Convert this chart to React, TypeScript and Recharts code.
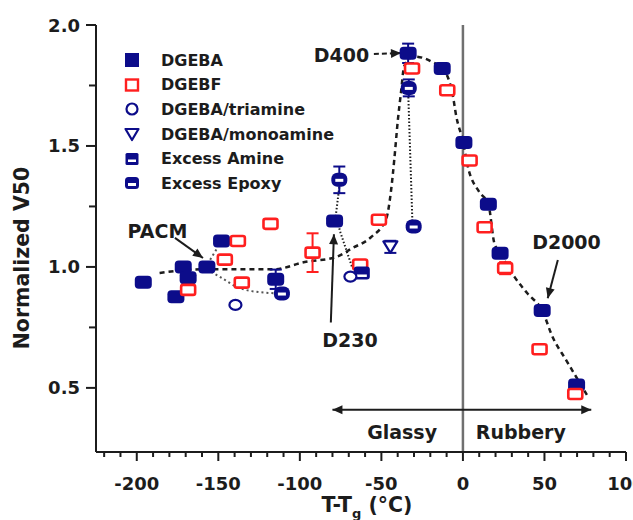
import React from "react";
import {
  ComposedChart,
  Scatter,
  Line,
  XAxis,
  YAxis,
  ErrorBar,
  ReferenceLine,
  ReferenceDot,
  Legend,
} from "recharts";

const NAVY = "#0c0c8a";
const RED = "#ff1f1f";
const INK = "#1c1c1c";
const FONT = "'DejaVu Sans', Verdana, sans-serif";

// axis ticks (minor every 10 / 0.25, labels on the majors)
const xTicks = [
  -220, -210, -200, -190, -180, -170, -160, -150, -140, -130, -120, -110, -100, -90, -80, -70, -60,
  -50, -40, -30, -20, -10, 0, 10, 20, 30, 40, 50, 60, 70, 80, 90, 100,
];
const xLabels = [-200, -150, -100, -50, 0, 50, 100];
const yTicks = [0.5, 0.75, 1, 1.25, 1.5, 1.75, 2];
const yLabels = [0.5, 1, 1.5, 2];

// measured points, T-Tg vs normalized V50
const dgeba = [
  { x: -196, y: 0.937 },
  { x: -176, y: 0.877 },
  { x: -171.5, y: 1.0 },
  { x: -168.5, y: 0.955 },
  { x: -157, y: 1.0 },
  { x: -148, y: 1.107 },
  { x: -78.7, y: 1.19 },
  { x: -12.7, y: 1.82 },
  { x: 0.6, y: 1.514 },
  { x: 15.6, y: 1.259 },
  { x: 22.8, y: 1.057 },
  { x: 48.6, y: 0.82 },
  { x: 69.7, y: 0.512 },
];
const dgebaErr = [
  { x: -114.8, y: 0.949, err: 0.04 },
  { x: -33.6, y: 1.883, err: 0.04 },
];
const dgebf = [
  { x: -168.5, y: 0.905 },
  { x: -146, y: 1.03 },
  { x: -138, y: 1.107 },
  { x: -135.6, y: 0.935 },
  { x: -118, y: 1.178 },
  { x: -63, y: 1.01 },
  { x: -51.5, y: 1.195 },
  { x: -31.2, y: 1.82 },
  { x: -9.6, y: 1.73 },
  { x: 4.1, y: 1.44 },
  { x: 13.3, y: 1.164 },
  { x: 47, y: 0.66 },
  { x: 68.9, y: 0.475 },
];
const dgebfErr = [
  { x: -92.2, y: 1.059, err: 0.08 },
  { x: 25.9, y: 0.995, err: 0.025 },
];
const triamine = [
  { x: -139.5, y: 0.843 },
  { x: -69, y: 0.96 },
];
const monoamine = [{ x: -44.5, y: 1.083, err: 0.025 }];
const excessAmine = [{ x: -62, y: 0.975 }];
const excessEpoxy = [
  { x: -111, y: 0.89 },
  { x: -30.2, y: 1.167 },
];
const excessEpoxyErr = [
  { x: -75.8, y: 1.36, err: 0.055 },
  { x: -33.2, y: 1.74, err: 0.035 },
];

// guide curves
const mainCurve = [
  { x: -186, y: 0.975 },
  { x: -160, y: 0.99 },
  { x: -135, y: 0.99 },
  { x: -116, y: 0.99 },
  { x: -97, y: 1.02 },
  { x: -78, y: 1.04 },
  { x: -68, y: 1.077 },
  { x: -56, y: 1.125 },
  { x: -47, y: 1.2 },
  { x: -44, y: 1.32 },
  { x: -42, y: 1.45 },
  { x: -40, y: 1.6 },
  { x: -38, y: 1.72 },
  { x: -36, y: 1.83 },
  { x: -30, y: 1.87 },
  { x: -19, y: 1.848 },
  { x: -12, y: 1.815 },
  { x: -9, y: 1.78 },
  { x: -6.5, y: 1.72 },
  { x: -4, y: 1.62 },
  { x: 0, y: 1.52 },
  { x: 3, y: 1.415 },
  { x: 10, y: 1.31 },
  { x: 15.6, y: 1.26 },
  { x: 19.2, y: 1.1 },
  { x: 22.8, y: 1.057 },
  { x: 31.5, y: 0.96 },
  { x: 39.6, y: 0.89 },
  { x: 48.6, y: 0.82 },
  { x: 55, y: 0.71 },
  { x: 63.3, y: 0.615 },
  { x: 77, y: 0.46 },
];
const pacmLow = [
  { x: -157, y: 0.99 },
  { x: -148, y: 0.955 },
  { x: -139.5, y: 0.92 },
  { x: -129.5, y: 0.9 },
  { x: -111, y: 0.89 },
];
const pacmUp = [
  { x: -155, y: 1.03 },
  { x: -150.5, y: 1.08 },
];
const d400Drop = [
  { x: -31, y: 1.19 },
  { x: -33.5, y: 1.71 },
];
const d230Drop = [
  { x: -75.8, y: 1.33 },
  { x: -78, y: 1.21 },
  { x: -75, y: 1.14 },
  { x: -68, y: 1.0 },
];

const legendItems = [
  { name: "DGEBA", kind: "dgeba" },
  { name: "DGEBF", kind: "dgebf" },
  { name: "DGEBA/triamine", kind: "triamine" },
  { name: "DGEBA/monoamine", kind: "monoamine" },
  { name: "Excess Amine", kind: "amine" },
  { name: "Excess Epoxy", kind: "epoxy" },
];

const Mark = ({ kind, cx, cy }: { kind: string; cx: number; cy: number }) => {
  switch (kind) {
    case "dgeba":
      return <rect x={cx - 8.5} y={cy - 6.5} width={17} height={13} rx={4} fill={NAVY} />;
    case "dgebf":
      return (
        <rect x={cx - 7} y={cy - 5} width={14} height={10} rx={2} fill="#fff" stroke={RED} strokeWidth={2.6} />
      );
    case "amine":
      return (
        <g>
          <rect x={cx - 8} y={cy - 6.5} width={16} height={13} rx={3} fill={NAVY} />
          <rect x={cx - 5} y={cy + 1.5} width={10} height={2.5} fill="#fff" />
        </g>
      );
    case "epoxy":
      return (
        <g>
          <rect x={cx - 8} y={cy - 7} width={16} height={14} rx={6} fill={NAVY} />
          <rect x={cx - 4} y={cy - 1} width={8} height={3} fill="#fff" />
        </g>
      );
    case "triamine":
      return <ellipse cx={cx} cy={cy} rx={6} ry={5} fill="#fff" stroke={NAVY} strokeWidth={2.2} />;
    case "monoamine":
      return (
        <polygon
          points={`${cx - 7},${cy - 5.5} ${cx + 7},${cy - 5.5} ${cx},${cy + 6}`}
          fill="#fff"
          stroke={NAVY}
          strokeWidth={2.2}
          strokeLinejoin="round"
        />
      );
    default:
      return null;
  }
};

const LegendMark = ({ kind }: { kind: string }) => {
  const c = 9;
  switch (kind) {
    case "dgeba":
      return <rect x={c - 7} y={c - 7} width={14} height={14} fill={NAVY} />;
    case "dgebf":
      return <rect x={c - 6} y={c - 5.5} width={12} height={11} fill="#fff" stroke={RED} strokeWidth={2.4} />;
    case "triamine":
      return <circle cx={c} cy={c} r={5.5} fill="#fff" stroke={NAVY} strokeWidth={2.2} />;
    case "monoamine":
      return (
        <polygon
          points={`${c - 6.5},${c - 5} ${c + 6.5},${c - 5} ${c},${c + 6}`}
          fill="#fff"
          stroke={NAVY}
          strokeWidth={2.2}
          strokeLinejoin="round"
        />
      );
    case "amine":
      return (
        <g>
          <rect x={c - 6.5} y={c - 6} width={13} height={12} rx={1.5} fill={NAVY} />
          <rect x={c - 4} y={c + 0.5} width={8} height={2.5} fill="#fff" />
        </g>
      );
    case "epoxy":
      return (
        <g>
          <rect x={c - 7} y={c - 6} width={14} height={12} rx={3.5} fill={NAVY} />
          <rect x={c - 4} y={c} width={8} height={3} fill="#fff" />
        </g>
      );
    default:
      return null;
  }
};

const LegendBox = () => (
  <div style={{ fontFamily: FONT, fontWeight: 700, fontSize: 16, color: INK }}>
    {legendItems.map((item) => (
      <div key={item.name} style={{ display: "flex", alignItems: "center", height: 24.6 }}>
        <svg width={18} height={18} style={{ marginRight: 20 }}>
          <LegendMark kind={item.kind} />
        </svg>
        <span>{item.name}</span>
      </div>
    ))}
  </div>
);

const txt = { fontFamily: FONT, fontWeight: 700, fill: INK } as const;

const BottomTick = (props: any) => {
  const { x, y, payload } = props;
  const major = xLabels.includes(payload.value);
  return (
    <g>
      <line x1={x} y1={y} x2={x} y2={y + (major ? 9 : 5)} stroke={INK} strokeWidth={2} />
      {major && (
        <text x={x} y={y + 38} textAnchor="middle" fontSize={18} {...txt}>
          {payload.value}
        </text>
      )}
    </g>
  );
};

const TopTick = (props: any) => {
  const { x, y, payload } = props;
  const major = xLabels.includes(payload.value);
  return <line x1={x} y1={y} x2={x} y2={y + (major ? 8 : 4)} stroke={INK} strokeWidth={2} />;
};

const LeftTick = (props: any) => {
  const { x, y, payload } = props;
  const major = yLabels.includes(payload.value);
  return (
    <g>
      <line x1={x} y1={y} x2={x - (major ? 10 : 7)} y2={y} stroke={INK} strokeWidth={2} />
      {major && (
        <text x={x - 16} y={y + 6.5} textAnchor="end" fontSize={18} {...txt}>
          {payload.value.toFixed(1)}
        </text>
      )}
    </g>
  );
};

const RightTick = (props: any) => {
  const { x, y, payload } = props;
  const major = yLabels.includes(payload.value);
  return <line x1={x} y1={y} x2={x - (major ? 8 : 5)} y2={y} stroke={INK} strokeWidth={2} />;
};

const Arrow = (props: any) => {
  const { x1, y1, x2, y2, both, dash } = props;
  const head = (tx: number, ty: number, fx: number, fy: number) => {
    const a = Math.atan2(ty - fy, tx - fx);
    const L = 10;
    const W = 4.5;
    const bx = tx - L * Math.cos(a);
    const by = ty - L * Math.sin(a);
    const px = -Math.sin(a) * W;
    const py = Math.cos(a) * W;
    return <polygon points={`${tx},${ty} ${bx + px},${by + py} ${bx - px},${by - py}`} fill={INK} />;
  };
  return (
    <g>
      <line x1={x1} y1={y1} x2={x2} y2={y2} stroke={INK} strokeWidth={2} strokeDasharray={dash} />
      {head(x2, y2, x1, y1)}
      {both && head(x1, y1, x2, y2)}
    </g>
  );
};

const tag = (text: string, size = 19) => (p: any) =>
  (
    <text x={p.cx} y={p.cy} dy="0.36em" textAnchor="middle" fontSize={size} {...txt}>
      {text}
    </text>
  );

const shapeOf = (kind: string) => (p: any) => <Mark kind={kind} cx={p.cx} cy={p.cy} />;

export default function App() {
  return (
    <div style={{ position: "absolute", left: 0, top: 0, background: "#fff" }}>
      <ComposedChart width={633} height={520} margin={{ top: 25, right: 7, bottom: 0, left: 0 }}>
        <XAxis
          dataKey="x"
          type="number"
          domain={[-225, 100]}
          ticks={xTicks}
          interval={0}
          allowDataOverflow
          height={68}
          tickSize={0}
          tickMargin={0}
          tickLine={false}
          axisLine={{ stroke: INK, strokeWidth: 2 }}
          tick={BottomTick}
          label={() => (
            <text x={367} y={512} textAnchor="middle" fontSize={20.5} {...txt}>
              T-T
              <tspan fontSize={13} dy={6}>
                g
              </tspan>
              <tspan dy={-6}> (°C)</tspan>
            </text>
          )}
        />
        <XAxis
          xAxisId="top"
          dataKey="x"
          type="number"
          orientation="top"
          domain={[-225, 100]}
          ticks={xTicks}
          interval={0}
          allowDataOverflow
          height={0}
          tickSize={0}
          tickMargin={0}
          tickLine={false}
          axisLine={{ stroke: INK, strokeWidth: 2 }}
          tick={TopTick}
        />
        <YAxis
          dataKey="y"
          type="number"
          domain={[0.235, 2]}
          ticks={yTicks}
          interval={0}
          allowDataOverflow
          width={96}
          tickSize={0}
          tickMargin={0}
          tickLine={false}
          axisLine={{ stroke: INK, strokeWidth: 2 }}
          tick={LeftTick}
          label={() => (
            <text
              x={22}
              y={258}
              textAnchor="middle"
              fontSize={20.5}
              transform="rotate(-90 22 258)"
              dy="0.36em"
              {...txt}
            >
              Normalized V50
            </text>
          )}
        />
        <YAxis
          yAxisId="right"
          dataKey="y"
          type="number"
          orientation="right"
          domain={[0.235, 2]}
          ticks={yTicks}
          interval={0}
          allowDataOverflow
          width={0}
          tickSize={0}
          tickMargin={0}
          tickLine={false}
          axisLine={{ stroke: INK, strokeWidth: 2 }}
          tick={RightTick}
        />

        <ReferenceLine x={0} stroke="#707070" strokeWidth={2.5} />

        <Line data={mainCurve} dataKey="y" type="monotone" stroke={INK} strokeWidth={2.5} strokeDasharray="5 4" dot={false} activeDot={false} isAnimationActive={false} />
        <Line data={pacmLow} dataKey="y" type="monotone" stroke="#555" strokeWidth={2} strokeDasharray="2 3" dot={false} activeDot={false} isAnimationActive={false} />
        <Line data={pacmUp} dataKey="y" type="linear" stroke="#555" strokeWidth={2} strokeDasharray="2 3" dot={false} activeDot={false} isAnimationActive={false} />
        <Line data={d400Drop} dataKey="y" type="linear" stroke={INK} strokeWidth={2} strokeDasharray="1.5 2" dot={false} activeDot={false} isAnimationActive={false} />
        <Line data={d230Drop} dataKey="y" type="linear" stroke={INK} strokeWidth={2} strokeDasharray="1.5 2" dot={false} activeDot={false} isAnimationActive={false} />

        <Scatter data={dgeba} shape={shapeOf("dgeba")} isAnimationActive={false} />
        <Scatter data={dgebaErr} shape={shapeOf("dgeba")} isAnimationActive={false}>
          <ErrorBar dataKey="err" direction="y" width={6} stroke={NAVY} strokeWidth={2} />
        </Scatter>
        <Scatter data={dgebf} shape={shapeOf("dgebf")} isAnimationActive={false} />
        <Scatter data={dgebfErr} shape={shapeOf("dgebf")} isAnimationActive={false}>
          <ErrorBar dataKey="err" direction="y" width={6} stroke={RED} strokeWidth={2} />
        </Scatter>
        <Scatter data={excessAmine} shape={shapeOf("amine")} isAnimationActive={false} />
        <Scatter data={excessEpoxy} shape={shapeOf("epoxy")} isAnimationActive={false} />
        <Scatter data={excessEpoxyErr} shape={shapeOf("epoxy")} isAnimationActive={false}>
          <ErrorBar dataKey="err" direction="y" width={6} stroke={NAVY} strokeWidth={2} />
        </Scatter>
        <Scatter data={triamine} shape={shapeOf("triamine")} isAnimationActive={false} />
        <Scatter data={monoamine} shape={shapeOf("monoamine")} isAnimationActive={false}>
          <ErrorBar dataKey="err" direction="y" width={6} stroke={NAVY} strokeWidth={2} />
        </Scatter>

        {/* annotations */}
        <ReferenceLine segment={[{ x: -54.6, y: 1.88 }, { x: -38, y: 1.884 }]} shape={(p: any) => <Arrow {...p} dash="5 3" />} />
        <ReferenceLine segment={[{ x: -81, y: 0.77 }, { x: -79.1, y: 1.135 }]} shape={(p: any) => <Arrow {...p} />} />
        <ReferenceLine segment={[{ x: -176.6, y: 1.12 }, { x: -159.4, y: 1.037 }]} shape={(p: any) => <Arrow {...p} />} />
        <ReferenceLine segment={[{ x: 58.2, y: 1.029 }, { x: 52, y: 0.871 }]} shape={(p: any) => <Arrow {...p} />} />
        <ReferenceLine segment={[{ x: -80, y: 0.41 }, { x: 78.7, y: 0.41 }]} shape={(p: any) => <Arrow {...p} both />} />

        <ReferenceDot x={-74.5} y={1.874} r={1} shape={tag("D400")} />
        <ReferenceDot x={-69.3} y={0.698} r={1} shape={tag("D230")} />
        <ReferenceDot x={-187.3} y={1.148} r={1} shape={tag("PACM")} />
        <ReferenceDot x={63.5} y={1.104} r={1} shape={tag("D2000")} />
        <ReferenceDot x={-37.3} y={0.318} r={1} shape={tag("Glassy")} />
        <ReferenceDot x={35.5} y={0.318} r={1} shape={tag("Rubbery")} />

        <Legend
          layout="vertical"
          align="center"
          verticalAlign="middle"
          wrapperStyle={{ left: 123, top: 48, width: 230 }}
          content={() => <LegendBox />}
        />
      </ComposedChart>
    </div>
  );
}
